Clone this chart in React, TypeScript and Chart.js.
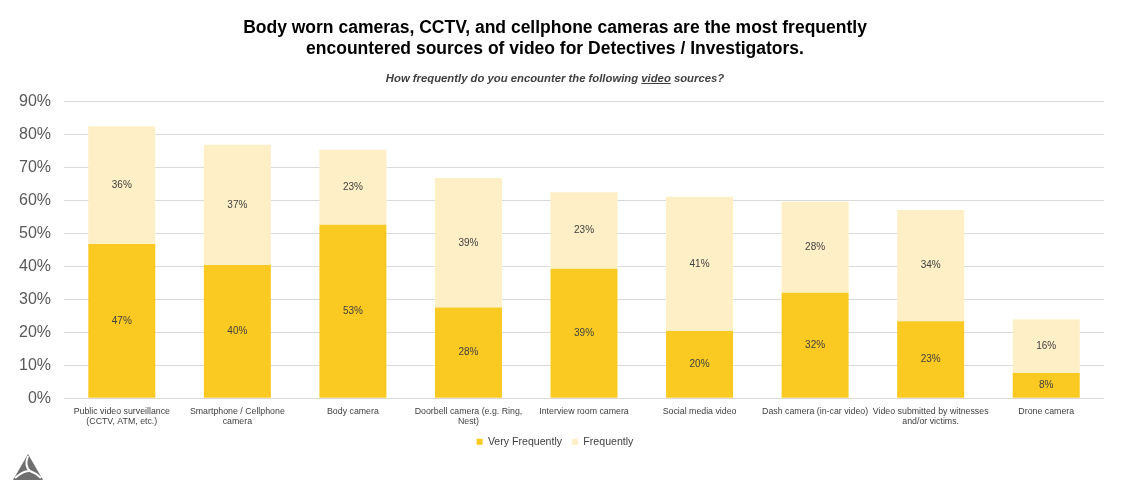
import React, { useEffect, useRef } from "react";
import { Chart, registerables } from "chart.js";

Chart.register(...registerables);

const categories: (string | string[])[] = [
  ["Public video surveillance", "(CCTV, ATM, etc.)"],
  ["Smartphone / Cellphone", "camera"],
  "Body camera",
  ["Doorbell camera (e.g. Ring,", "Nest)"],
  "Interview room camera",
  "Social media video",
  "Dash camera (in-car video)",
  ["Video submitted by witnesses", "and/or victims."],
  "Drone camera",
];

const veryFrequently = [46.8, 40.4, 52.6, 27.5, 39.3, 20.4, 32.0, 23.3, 7.6];
const frequently = [35.7, 36.5, 22.8, 39.3, 23.2, 40.7, 27.6, 33.8, 16.3];

const yTicks = [0, 10, 20, 30, 40, 50, 60, 70, 80, 90];

const TITLE = [
  "Body worn cameras, CCTV, and cellphone cameras are the most frequently",
  "encountered sources of video for Detectives / Investigators.",
];
const SUB_BEFORE = "How frequently do you encounter the following ";
const SUB_UNDER = "video";
const SUB_AFTER = " sources?";
const SUBTITLE = SUB_BEFORE + SUB_UNDER + SUB_AFTER;

const FONT = "'Liberation Sans', Arial, sans-serif";

const barLabelPlugin = {
  id: "barLabels",
  afterDatasetsDraw(chart: any) {
    const ctx = chart.ctx;
    ctx.save();
    ctx.font = `10px ${FONT}`;
    ctx.fillStyle = "#404040";
    ctx.textAlign = "center";
    ctx.textBaseline = "middle";
    chart.data.datasets.forEach((ds: any, di: number) => {
      const meta = chart.getDatasetMeta(di);
      meta.data.forEach((el: any, i: number) => {
        const v = ds.data[i];
        const y = (el.y + el.base) / 2;
        ctx.fillText(Math.round(v) + "%", el.x, y);
      });
    });
    ctx.restore();
  },
};

const underlinePlugin = {
  id: "subUnderline",
  afterDraw(chart: any) {
    const box = chart.boxes.find(
      (b: any) => b.options && b.options.text === SUBTITLE
    );
    if (!box) return;
    const ctx = chart.ctx;
    ctx.save();
    const fs = box.options.font.size;
    ctx.font = `italic bold ${fs}px ${FONT}`;
    const full = ctx.measureText(SUBTITLE).width;
    const pre = ctx.measureText(SUB_BEFORE).width;
    const uw = ctx.measureText(SUB_UNDER).width;
    const cx = (box.left + box.right) / 2;
    const startX = cx - full / 2 + pre;
    const lh = fs * 1.2;
    const midY = box.top + box.options.padding.top + lh / 2;
    const uy = Math.round(midY + fs * 0.4) + 0.5;
    ctx.strokeStyle = "#404040";
    ctx.lineWidth = 1;
    ctx.beginPath();
    ctx.moveTo(startX, uy);
    ctx.lineTo(startX + uw, uy);
    ctx.stroke();
    ctx.restore();
  },
};

const logoPlugin = {
  id: "logo",
  afterDraw(chart: any) {
    const ctx = chart.ctx;
    const h = chart.height;
    ctx.save();
    ctx.fillStyle = "#6f6f6f";
    ctx.beginPath();
    ctx.moveTo(28, h - 46);
    ctx.lineTo(13, h - 20);
    ctx.lineTo(43, h - 20);
    ctx.closePath();
    ctx.fill();
    ctx.strokeStyle = "#ffffff";
    ctx.lineWidth = 2;
    ctx.beginPath();
    ctx.moveTo(28, h - 44);
    ctx.quadraticCurveTo(24, h - 34, 30, h - 29);
    ctx.stroke();
    ctx.beginPath();
    ctx.moveTo(15, h - 22);
    ctx.quadraticCurveTo(24, h - 30, 30, h - 29);
    ctx.stroke();
    ctx.beginPath();
    ctx.moveTo(30, h - 29);
    ctx.quadraticCurveTo(36, h - 27, 41, h - 22);
    ctx.stroke();
    ctx.restore();
  },
};

export default function App() {
  const ref = useRef<HTMLCanvasElement | null>(null);
  useEffect(() => {
    if (!ref.current) return;
    const chart = new Chart(ref.current, {
      type: "bar",
      data: {
        labels: categories,
        datasets: [
          {
            label: "Very Frequently",
            data: veryFrequently,
            backgroundColor: "#FACA23",
            categoryPercentage: 1,
            barPercentage: 0.58,
          },
          {
            label: "Frequently",
            data: frequently,
            backgroundColor: "#FEEFC6",
            categoryPercentage: 1,
            barPercentage: 0.58,
          },
        ],
      },
      options: {
        animation: false,
        responsive: false,
        maintainAspectRatio: false,
        layout: { padding: { left: 6, right: 31, top: 10, bottom: 43 } },
        plugins: {
          title: {
            display: true,
            text: TITLE,
            color: "#000000",
            font: { family: FONT, size: 17.5, weight: "bold", lineHeight: 1.2 },
            padding: { top: 8, bottom: 7 },
          },
          subtitle: {
            display: true,
            text: SUBTITLE,
            color: "#404040",
            font: { family: FONT, size: 11.3, weight: "bold", style: "italic", lineHeight: 1.2 },
            padding: { top: 5, bottom: 16 },
          },
          legend: {
            position: "bottom",
            labels: {
              boxWidth: 6,
              boxHeight: 6,
              padding: 10,
              color: "#404040",
              font: { family: FONT, size: 10.6 },
            },
          },
          tooltip: { enabled: false },
        },
        scales: {
          x: {
            stacked: true,
            grid: { display: false },
            border: { display: false },
            ticks: {
              color: "#404040",
              font: { family: FONT, size: 8.8, lineHeight: 1.15 },
              maxRotation: 0,
              autoSkip: false,
              padding: 0,
            },
          },
          y: {
            stacked: true,
            min: 0,
            max: 90,
            afterBuildTicks(axis: any) {
              axis.ticks = yTicks.map((v) => ({ value: v }));
            },
            grid: { color: "#d9d9d9", drawTicks: false },
            border: { display: false },
            ticks: {
              color: "#595959",
              font: { family: FONT, size: 16 },
              padding: 13,
              callback: (v: any) => v + "%",
            },
          },
        },
      },
      plugins: [barLabelPlugin, underlinePlugin, logoPlugin],
    });
    return () => chart.destroy();
  }, []);
  return (
    <div style={{ position: "absolute", left: 0, top: 0, width: 1135, height: 500, background: "#fff" }}>
      <canvas ref={ref} width={1135} height={500} style={{ width: 1135, height: 500 }} />
    </div>
  );
}
